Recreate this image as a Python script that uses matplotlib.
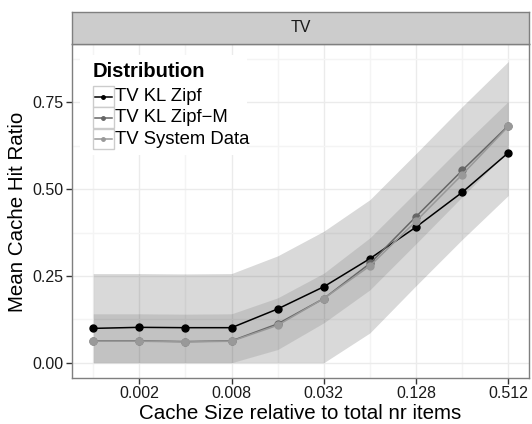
import numpy as np
import matplotlib
matplotlib.use('Agg')
import matplotlib.pyplot as plt
import matplotlib.ticker as ticker
from matplotlib.patches import Rectangle
from matplotlib.lines import Line2D
plt.rcParams['font.family'] = ['Liberation Sans', 'DejaVu Sans']

# cache size (fraction of items) and mean hit ratios
cache_size = [0.001, 0.002, 0.004, 0.008, 0.016, 0.032, 0.064, 0.128, 0.256, 0.512]
zipf = [0.099, 0.102, 0.101, 0.101, 0.155, 0.219, 0.300, 0.391, 0.491, 0.605]
zipf_m = [0.063, 0.063, 0.061, 0.063, 0.112, 0.185, 0.286, 0.421, 0.554, 0.683]
system = [0.062, 0.062, 0.060, 0.062, 0.108, 0.185, 0.279, 0.408, 0.542, 0.681]
# ribbons (wide one around system data, narrow one around the models)
outer_lo = [0.0, 0.0, 0.0, 0.0, 0.0, 0.0, 0.086, 0.222, 0.355, 0.482]
outer_hi = [0.257, 0.257, 0.256, 0.257, 0.308, 0.379, 0.470, 0.603, 0.738, 0.868]
inner_lo = [0.0, 0.0, 0.0, 0.0, 0.038, 0.115, 0.210, 0.343, 0.478, 0.610]
inner_hi = [0.141, 0.141, 0.140, 0.141, 0.187, 0.258, 0.360, 0.492, 0.625, 0.753]

labels = ['TV KL Zipf', 'TV KL Zipf\u2212M', 'TV System Data']
colors = ['#000000', '#666666', '#999999']
series = [zipf, zipf_m, system]
xticks = [0.002, 0.008, 0.032, 0.128, 0.512]
xticklabels = ['0.002', '0.008', '0.032', '0.128', '0.512']
yticks = [0.0, 0.25, 0.5, 0.75]
yticklabels = ['0.00', '0.25', '0.50', '0.75']

W, H = 532, 424
def fx(px): return px / W
def fy(py): return 1 - py / H

fig = plt.figure(figsize=(W / 100, H / 100), dpi=100)
ax = fig.add_axes([fx(72), fy(378), fx(529) - fx(72), fy(43.5) - fy(378)])
strip = fig.add_axes([fx(72), fy(43.5), fx(529) - fx(72), fy(11.7) - fy(43.5)])

ax.set_xscale('log', base=2)
ax.set_xlim(0.001 * 2 ** -0.46, 0.512 * 2 ** 0.45)
ax.set_ylim(-0.044, 0.92)

ax.fill_between(cache_size, outer_lo, outer_hi, color='black', alpha=0.15, lw=0, zorder=2)
ax.fill_between(cache_size, inner_lo, inner_hi, color='black', alpha=0.10, lw=0, zorder=2)
for s, c in zip(series, colors):
    ax.plot(cache_size, s, '-o', color=c, lw=1.1, markersize=5, zorder=3)

ax.xaxis.set_major_locator(ticker.FixedLocator(xticks))
ax.xaxis.set_major_formatter(ticker.FixedFormatter(xticklabels))
ax.xaxis.set_minor_locator(ticker.FixedLocator([0.001, 0.004, 0.016, 0.064, 0.256]))
ax.xaxis.set_minor_formatter(ticker.NullFormatter())
ax.yaxis.set_major_locator(ticker.FixedLocator(yticks))
ax.yaxis.set_major_formatter(ticker.FixedFormatter(yticklabels))
ax.yaxis.set_minor_locator(ticker.FixedLocator([0.125, 0.375, 0.625, 0.875]))
ax.grid(which='major', color='#ebebeb', lw=1.0, zorder=0)
ax.grid(which='minor', color='#f4f4f4', lw=1.0, zorder=0)
ax.set_axisbelow(True)
ax.tick_params(which='major', length=4, width=1, color='#333333', labelsize=11.5,
               labelcolor='#1a1a1a', pad=2)
ax.tick_params(which='minor', length=0)
for sp in ax.spines.values():
    sp.set_color('#7f7f7f')
    sp.set_linewidth(1.0)

ax.set_xlabel('Cache Size relative to total nr items', fontsize=14.8, labelpad=2)
fig.text(fx(18), fy(212), 'Mean Cache Hit Ratio', rotation=90, fontsize=14.8,
         ha='center', va='center')

strip.set_facecolor('#cccccc')
strip.set_xticks([])
strip.set_yticks([])
for sp in strip.spines.values():
    sp.set_color('#7f7f7f')
    sp.set_linewidth(1.0)
strip.text(0.5, 0.5, 'TV', ha='center', va='center', fontsize=11.5, color='#1a1a1a',
           transform=strip.transAxes)

# legend drawn by hand inside the panel
ax.add_patch(Rectangle((fx(80), fy(155)), fx(247) - fx(80), fy(55) - fy(155),
                       transform=fig.transFigure, facecolor='white', edgecolor='none',
                       zorder=4, clip_on=False))
fig.text(fx(92.5), fy(77), 'Distribution', fontsize=14.5, fontweight='bold',
         ha='left', va='baseline', zorder=5)
row_y = [96.5, 117.8, 139.1]
for yc, lab, c in zip(row_y, labels, colors):
    ax.add_patch(Rectangle((fx(93), fy(yc + 10)), fx(20.5), fy(0) - fy(20.5),
                           transform=fig.transFigure, facecolor='white',
                           edgecolor='#cccccc', lw=1.0, zorder=5, clip_on=False))
    ax.add_line(Line2D([fx(95), fx(111.5)], [fy(yc), fy(yc)], transform=fig.transFigure,
                       color=c, lw=1.1, zorder=6, clip_on=False))
    ax.add_line(Line2D([fx(103.25)], [fy(yc)], transform=fig.transFigure, color=c,
                       marker='o', markersize=2.5, lw=0, zorder=6, clip_on=False))
    fig.text(fx(115), fy(yc), lab, fontsize=13.3, ha='left', va='center', zorder=6)

fig.savefig('out.png', dpi=100)
